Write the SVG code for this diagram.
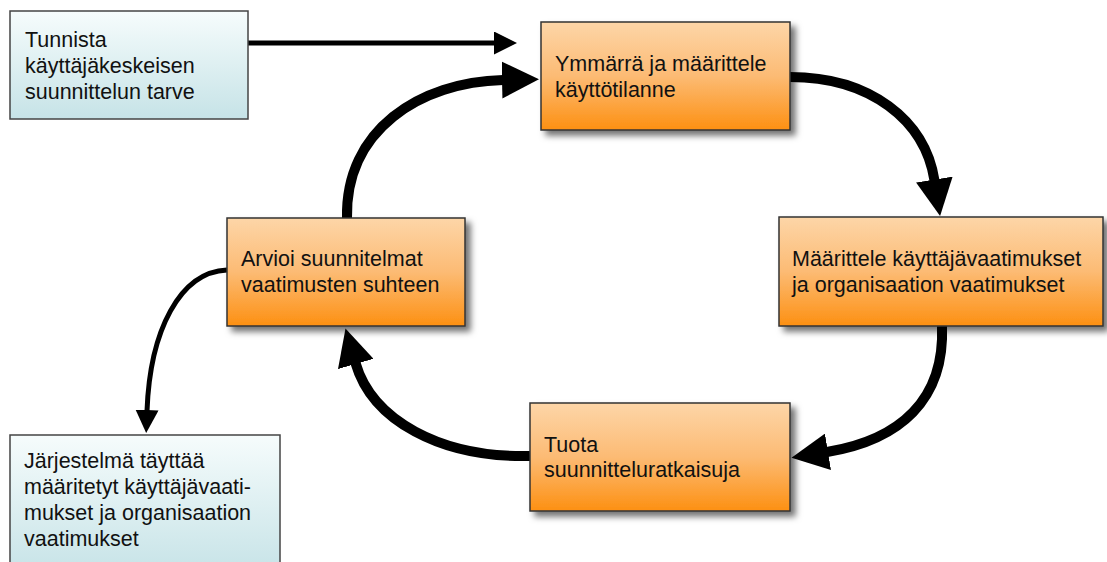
<svg xmlns="http://www.w3.org/2000/svg" width="1107" height="562" viewBox="0 0 1107 562">
  <defs>
    <linearGradient id="gOrange" x1="0" y1="0" x2="0" y2="1">
      <stop offset="0" stop-color="#fdd6a8"/>
      <stop offset="0.5" stop-color="#fcbb74"/>
      <stop offset="1" stop-color="#fd9012"/>
    </linearGradient>
    <linearGradient id="gBlue" x1="0" y1="0" x2="0" y2="1">
      <stop offset="0" stop-color="#f6fcfc"/>
      <stop offset="1" stop-color="#c6e3e7"/>
    </linearGradient>
    <filter id="shadow" x="-10%" y="-10%" width="130%" height="140%">
      <feDropShadow dx="5" dy="5" stdDeviation="3" flood-color="#000" flood-opacity="0.55"/>
    </filter>
    <marker id="headThick" markerUnits="userSpaceOnUse" viewBox="0 0 37 37" markerWidth="37" markerHeight="37" refX="1" refY="18.5" orient="auto">
      <path d="M0,0 L37,18.5 L0,37 z" fill="#000"/>
    </marker>
    <marker id="headThin" markerUnits="userSpaceOnUse" viewBox="0 0 23 23" markerWidth="23" markerHeight="23" refX="1" refY="11.5" orient="auto">
      <path d="M0,0 L23,11.5 L0,23 z" fill="#000"/>
    </marker>
  </defs>
  <style>
    .orange { fill: url(#gOrange); stroke: #333; stroke-width: 1.5; filter: url(#shadow); }
    .blue { fill: url(#gBlue); stroke: #444; stroke-width: 1.5; }
    .lbl { font-family: "Liberation Sans", Arial, sans-serif; font-size: 21.5px; fill: #111; }
    .thick { fill: none; stroke: #000; stroke-width: 10; marker-end: url(#headThick); }
    .thin { fill: none; stroke: #000; stroke-width: 5; marker-end: url(#headThin); }
  </style>
  <rect width="1107" height="562" fill="#fff"/>

  <g id="connectors">
    <path class="thin" d="M248,43 L495,43"/>
    <path class="thick" d="M347,218 C345,130 420,82 503,80"/>
    <path class="thick" d="M790,77 C870,77 925,120 934.5,180.5"/>
    <path class="thick" d="M942,326 C945,400 900,440 827,452"/>
    <path class="thick" d="M530,456 C440,458 372,420 355.5,363"/>
    <path class="thin" d="M227,270 C180,272 150,330 147,411"/>
  </g>

  <g id="node-tunnista">
    <rect class="blue" x="10" y="11" width="238" height="108"/>
    <text class="lbl" x="25" y="47">Tunnista</text>
    <text class="lbl" x="25" y="73">käyttäjäkeskeisen</text>
    <text class="lbl" x="25" y="99">suunnittelun tarve</text>
  </g>

  <g id="node-ymmarra">
    <rect class="orange" x="541" y="22" width="249" height="108"/>
    <text class="lbl" x="555" y="71">Ymmärrä ja määrittele</text>
    <text class="lbl" x="555" y="97">käyttötilanne</text>
  </g>

  <g id="node-maarittele">
    <rect class="orange" x="779" y="217" width="324" height="109"/>
    <text class="lbl" x="792" y="266">Määrittele käyttäjävaatimukset</text>
    <text class="lbl" x="792" y="292">ja organisaation vaatimukset</text>
  </g>

  <g id="node-tuota">
    <rect class="orange" x="530" y="403" width="260" height="108"/>
    <text class="lbl" x="544" y="452">Tuota</text>
    <text class="lbl" x="544" y="477">suunnitteluratkaisuja</text>
  </g>

  <g id="node-arvioi">
    <rect class="orange" x="227" y="218" width="238" height="108"/>
    <text class="lbl" x="241" y="266">Arvioi suunnitelmat</text>
    <text class="lbl" x="241" y="292">vaatimusten suhteen</text>
  </g>

  <g id="node-jarjestelma">
    <rect class="blue" x="10" y="435" width="270" height="140"/>
    <text class="lbl" x="24" y="468">Järjestelmä täyttää</text>
    <text class="lbl" x="24" y="494">määritetyt käyttäjävaati-</text>
    <text class="lbl" x="24" y="520">mukset ja organisaation</text>
    <text class="lbl" x="24" y="546">vaatimukset</text>
  </g>
</svg>
